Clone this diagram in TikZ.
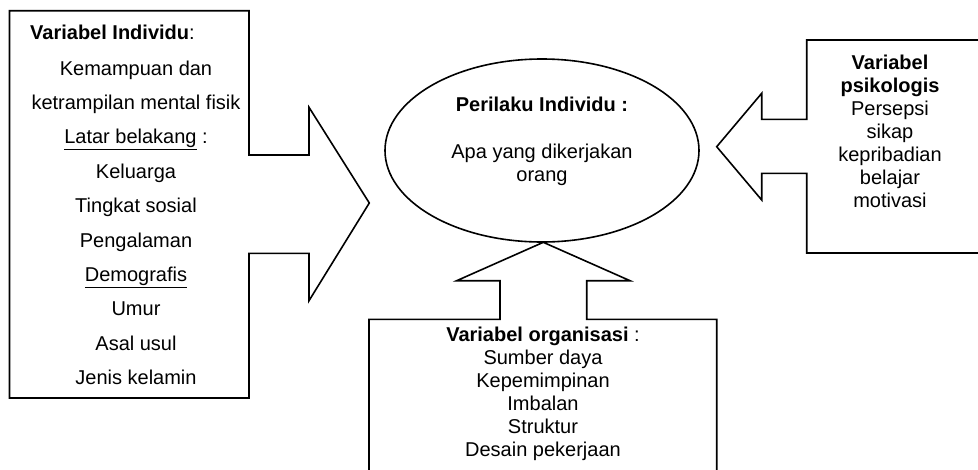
\documentclass[tikz,border=0pt]{standalone}
\usepackage{fontspec}
\setmainfont{Liberation Sans}
\usetikzlibrary{shapes.geometric}
\begin{document}
\begin{tikzpicture}[x=1pt,y=-1pt,
  shapeline/.style={draw=black,line width=1.6pt,line join=miter,fill=white},
  txt/.style={font=\fontsize{20}{23}\selectfont,inner sep=0pt,anchor=base,text=black}]
\useasboundingbox (0,0) rectangle (978,469);
\clip (0,0) rectangle (978,469);
\fill[white] (0,0) rectangle (978,469);
% left arrow box
\draw[shapeline] (9.5,10.7) -- (249,10.7) -- (249,155) -- (309,155) -- (309,107.3)
  -- (369.3,203) -- (309,300.7) -- (309,253.3) -- (249,253.3) -- (249,398)
  -- (9.5,398) -- cycle;
% right arrow box
\draw[shapeline] (995,40) -- (806.7,40) -- (806.7,119.3) -- (761.7,119.3) -- (761.7,93.3)
  -- (716.7,146.7) -- (761.7,200) -- (761.7,173.3) -- (806.7,173.3) -- (806.7,253)
  -- (995,253);
% bottom arrow box
\draw[shapeline] (369,490) -- (369,319.3) -- (500,319.3) -- (500,280.7) -- (456.7,280.7)
  -- (543.3,242.3) -- (630,280.7) -- (586.7,280.7) -- (586.7,319.3) -- (716.7,319.3)
  -- (716.7,490);
% ellipse
\node[ellipse,draw=black,line width=1.6pt,minimum width=314pt,minimum height=183pt,inner sep=0pt] (beh) at (542,150.5) {};
\node[txt] (b1) at (542,111.5) {\textbf{Perilaku Individu :}};
\node[txt] (b2) at (542,158) {Apa yang dikerjakan};
\node[txt] (b3) at (542,181) {orang};
% left texts
\node[txt,anchor=base west] (lh) at (30,39.3) {\textbf{Variabel Individu}:};
\foreach \t [count=\i] in {Kemampuan dan,ketrampilan mental fisik,{\underline{Latar belakang} :},Keluarga,Tingkat sosial,Pengalaman,{\underline{Demografis}},Umur,Asal usul,Jenis kelamin}
  \node[txt] (l\i) at (136,75+34.4*\i-34.4) {\t};
% right texts
\foreach \t [count=\i] in {\textbf{Variabel},\textbf{psikologis},Persepsi,sikap,kepribadian,belajar,motivasi}
  \node[txt] (r\i) at (890,69+23*\i-23) {\t};
% bottom texts
\foreach \t [count=\i] in {{\textbf{Variabel organisasi} :},Sumber daya,Kepemimpinan,Imbalan,Struktur,Desain pekerjaan}
  \node[txt] (o\i) at (543,341+23*\i-23) {\t};
\end{tikzpicture}
\end{document}
